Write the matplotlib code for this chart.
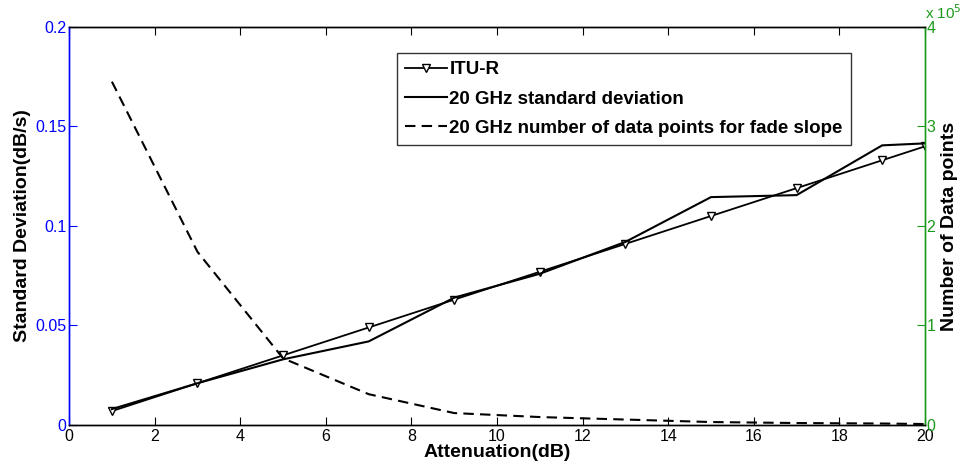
import matplotlib
matplotlib.use("Agg")
import matplotlib.pyplot as plt

plt.rcParams['font.family'] = ['Liberation Sans', 'DejaVu Sans']

# Data
attenuation = [1, 3, 5, 7, 9, 11, 13, 15, 17, 19, 20]
itu_r = [0.007, 0.021, 0.035, 0.049, 0.063, 0.077, 0.091, 0.105, 0.119, 0.133, 0.140]
std_20ghz = [0.008, 0.021, 0.033, 0.042, 0.064, 0.076, 0.092, 0.1145, 0.1155, 0.1405, 0.1415]
npoints_20ghz = [3.45e5, 1.74e5, 0.67e5, 0.31e5, 0.12e5, 0.08e5, 0.055e5, 0.03e5, 0.02e5, 0.015e5, 0.01e5]

xticks = [0, 2, 4, 6, 8, 10, 12, 14, 16, 18, 20]
left_ticks = [0, 0.05, 0.1, 0.15, 0.2]
left_ticklabels = ['0', '0.05', '0.1', '0.15', '0.2']
right_ticks = [0, 1e5, 2e5, 3e5, 4e5]
right_ticklabels = ['0', '1', '2', '3', '4']

blue = '#0000ff'
green = '#1a9a1a'

fig = plt.figure(figsize=(9.6, 4.7), dpi=100)
ax = fig.add_axes([0.072, 0.0957, 0.8915, 0.847])
ax2 = ax.twinx()

l1, = ax.plot(attenuation, itu_r, color='black', lw=1.3, marker='v', markersize=6,
              markerfacecolor='white', markeredgecolor='black', markeredgewidth=1.0, label='ITU-R')
l2, = ax.plot(attenuation, std_20ghz, color='black', lw=1.5, label='20 GHz standard deviation')
l3, = ax2.plot(attenuation, npoints_20ghz, color='black', lw=1.5, ls=(0, (5, 3)),
               label='20 GHz number of data points for fade slope')

ax.set_xlim(0, 20)
ax.set_ylim(0, 0.2)
ax2.set_ylim(0, 4e5)
ax.set_xticks(xticks)
ax.set_xticklabels([str(t) for t in xticks])
ax.set_yticks(left_ticks)
ax.set_yticklabels(left_ticklabels)
ax2.set_yticks(right_ticks)
ax2.set_yticklabels(right_ticklabels)

ax.tick_params(axis='x', direction='in', top=True, length=6, labelsize=11.5, colors='black', pad=3)
ax.tick_params(axis='y', direction='in', length=6, labelsize=11.5, colors=blue, pad=2)
ax2.tick_params(axis='y', direction='in', length=6, labelsize=11.5, colors=green, pad=1)

for ax_ in (ax, ax2):
    ax_.spines['left'].set_color(blue)
    ax_.spines['right'].set_color(green)
    ax_.spines['top'].set_color('black')
    ax_.spines['bottom'].set_color('black')
    for s in ax_.spines.values():
        s.set_linewidth(1.0)

ax.set_xlabel('Attenuation(dB)', fontsize=14, fontweight='bold', labelpad=0)
ax.set_ylabel('Standard Deviation(dB/s)', fontsize=14, fontweight='bold', labelpad=3)
ax2.set_ylabel('Number of Data points', fontsize=14, fontweight='bold', labelpad=4)

ax2.text(1.0, 1.012, r'x 10$^5$', transform=ax2.transAxes, color=green, fontsize=11,
         ha='left', va='bottom')

leg = ax2.legend(handles=[l1, l2, l3], loc='upper left', bbox_to_anchor=(0.383, 0.935),
                 prop={'weight': 'bold', 'size': 13.5}, frameon=True, fancybox=False,
                 edgecolor='black', handlelength=2.2, handletextpad=0.15, borderpad=0.45,
                 labelspacing=0.65, borderaxespad=0)
leg.get_frame().set_linewidth(1.0)

fig.savefig('out.png', dpi=100)
